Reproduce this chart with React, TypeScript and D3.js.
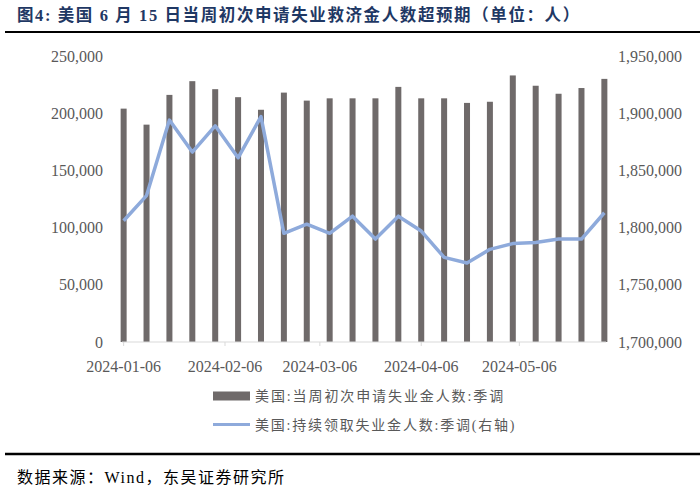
import React from "react";
import * as d3 from "d3";

const weeks = [
  "2024-01-06", "2024-01-13", "2024-01-20", "2024-01-27", "2024-02-03", "2024-02-10",
  "2024-02-17", "2024-02-24", "2024-03-02", "2024-03-09", "2024-03-16", "2024-03-23",
  "2024-03-30", "2024-04-06", "2024-04-13", "2024-04-20", "2024-04-27", "2024-05-04",
  "2024-05-11", "2024-05-18", "2024-05-25", "2024-06-01",
];
const initialClaims = [
  204000, 190000, 216000, 228000, 221000, 214000, 203000, 218000, 211000, 213000, 213000,
  213000, 223000, 213000, 213000, 209000, 210000, 233000, 224000, 217000, 222000, 230000,
];
const continuingClaims = [
  1806000, 1828000, 1894000, 1866000, 1889000, 1861000, 1897000, 1795000, 1803000, 1795000,
  1810000, 1790000, 1810000, 1797000, 1774000, 1769000, 1781000, 1786000, 1787000, 1790000,
  1790000, 1813000,
];
const xTickDates = ["2024-01-06", "2024-02-06", "2024-03-06", "2024-04-06", "2024-05-06"];
const leftTicks = [0, 50000, 100000, 150000, 200000, 250000];
const rightTicks = [1700000, 1750000, 1800000, 1850000, 1900000, 1950000];
const title = "图4: 美国 6 月 15 日当周初次申请失业救济金人数超预期（单位：人）";
const barLegend = "美国:当周初次申请失业金人数:季调";
const lineLegend = "美国:持续领取失业金人数:季调(右轴)";
const source = "数据来源：Wind，东吴证券研究所";

const W = 700;
const H = 501;
const parse = d3.utcParse("%Y-%m-%d");
const HALF_DAY = 12 * 3600 * 1000;
const numFont = "'Liberation Serif', 'Times New Roman', serif";
const cjkFont = "'Liberation Serif', 'Noto Sans CJK SC', serif";

export default function App() {
  const x = d3
    .scaleUtc()
    .domain([parse("2024-01-06") as Date, parse("2024-06-02") as Date])
    .range([122, 606]);
  const yL = d3.scaleLinear().domain([0, 250000]).range([342, 56]);
  const yR = d3.scaleLinear().domain([1700000, 1950000]).range([342, 56]);
  const fmt = d3.format(",");
  const cx = (s: string) => x(new Date((parse(s) as Date).getTime() + HALF_DAY));
  const barW = 6;

  const line = d3
    .line<number>()
    .x((_, i) => cx(weeks[i]))
    .y((d) => yR(d));

  return (
    <svg width={W} height={H} style={{ position: "absolute", left: 0, top: 0, background: "#fff" }}>
      <text x={17} y={21} fontFamily={cjkFont} fontWeight="bold" fontSize={16.5} fill="#1f3864" letterSpacing={1.6}>
        {title}
      </text>
      <line x1={5} x2={700} y1={32} y2={32} stroke="#000" strokeWidth={2} />

      {leftTicks.map((t) => (
        <text key={"l" + t} x={103} y={yL(t)} dy="0.35em" textAnchor="end" fontFamily={numFont} fontSize={16} fill="#595959">
          {fmt(t)}
        </text>
      ))}
      {rightTicks.map((t) => (
        <text key={"r" + t} x={618} y={yR(t)} dy="0.35em" textAnchor="start" fontFamily={numFont} fontSize={16} fill="#595959">
          {fmt(t)}
        </text>
      ))}

      {initialClaims.map((v, i) => (
        <rect key={"b" + i} x={cx(weeks[i]) - barW / 2} y={yL(v)} width={barW} height={yL(0) - yL(v)} fill="#6f6a6a" />
      ))}

      <line x1={x.range()[0]} x2={x.range()[1]} y1={yL(0)} y2={yL(0)} stroke="#d9d9d9" strokeWidth={1} />
      {xTickDates.map((d) => (
        <g key={"t" + d}>
          <line x1={cx(d)} x2={cx(d)} y1={yL(0)} y2={yL(0) + 4} stroke="#d9d9d9" strokeWidth={1} />
          <text x={cx(d)} y={366} dy="0.35em" textAnchor="middle" fontFamily={numFont} fontSize={16} fill="#595959">
            {d}
          </text>
        </g>
      ))}

      <path d={line(continuingClaims) || ""} fill="none" stroke="#8eaadb" strokeWidth={3.5} strokeLinejoin="round" />

      <rect x={213} y={391.5} width={37} height={9} fill="#6f6a6a" />
      <text x={255} y={396} dy="0.35em" fontFamily={cjkFont} fontSize={14} fill="#595959" letterSpacing={1.9}>
        {barLegend}
      </text>
      <line x1={213} x2={250} y1={424.5} y2={424.5} stroke="#8eaadb" strokeWidth={3} />
      <text x={255} y={425} dy="0.35em" fontFamily={cjkFont} fontSize={14} fill="#595959" letterSpacing={1.8}>
        {lineLegend}
      </text>

      <line x1={5} x2={700} y1={454} y2={454} stroke="#000" strokeWidth={2.5} />
      <text x={17} y={477} dy="0.35em" fontFamily={cjkFont} fontSize={16} fill="#000" letterSpacing={1.5}>
        {source}
      </text>
    </svg>
  );
}
